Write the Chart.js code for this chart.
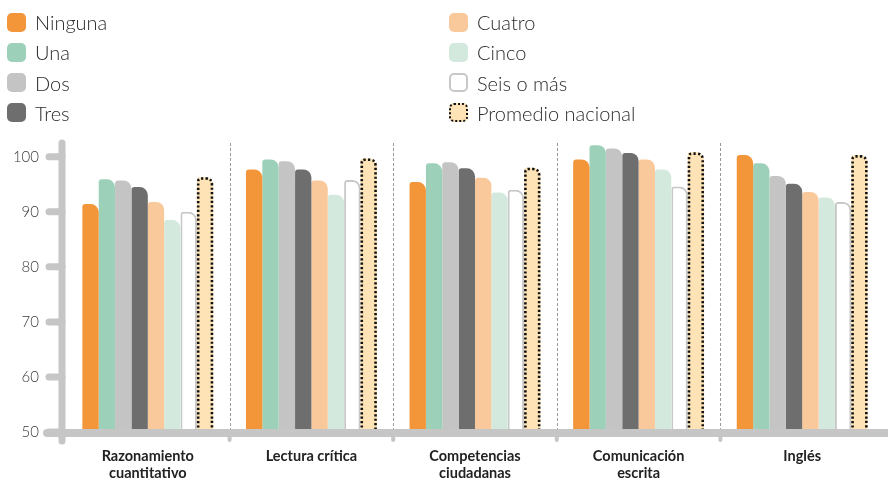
<!DOCTYPE html>
<html lang="es">
<head>
  <meta charset="UTF-8" />
  <title>Promedios por número de ...</title>
  <script src="https://cdn.jsdelivr.net/npm/chart.js"></script>
  <style>
    body { margin: 0; background: #fff; font-family: Lato, sans-serif; }
    #wrap { position: relative; width: 888px; height: 481px; }
    #legend { position: absolute; left: 0; top: 0; width: 888px; height: 135px; }
    .item { position: absolute; display: flex; align-items: center; font-size: 20px; font-weight: 300; color: #2b2b2b; }
    .box { width: 19px; height: 19px; border-radius: 5px; margin-right: 9px; box-sizing: border-box; }
  </style>
</head>
<body>
  <div id="wrap">
    <canvas id="grafico" width="888" height="481"></canvas>
    <div id="legend"></div>
  </div>

  <script>
    // Datos
    const categorias = [['Razonamiento', 'cuantitativo'], 'Lectura crítica', ['Competencias', 'ciudadanas'], ['Comunicación', 'escrita'], 'Inglés'];
    const nombres = ['Ninguna', 'Una', 'Dos', 'Tres', 'Cuatro', 'Cinco', 'Seis o más', 'Promedio nacional'];
    const ninguna  = [91.4, 97.7, 95.4, 99.5, 100.3];
    const una      = [95.9, 99.5, 98.8, 102.1, 98.8];
    const dos      = [95.7, 99.2, 99.0, 101.5, 96.5];
    const tres     = [94.5, 97.7, 97.9, 100.7, 95.1];
    const cuatro   = [91.8, 95.7, 96.2, 99.5, 93.6];
    const cinco    = [88.5, 93.1, 93.5, 97.7, 92.6];
    const seis     = [90.0, 95.8, 94.0, 94.6, 91.8];
    const promedio = [96.3, 99.7, 98.0, 100.8, 100.3];
    const yTicks = [50, 60, 70, 80, 90, 100];

    const series = [ninguna, una, dos, tres, cuatro, cinco, seis, promedio];
    const colores = ['#f39539', '#9dd0b8', '#c4c4c4', '#6e6e6e', '#f9c99c', '#d4e9de', '#ffffff', '#fde3b6'];
    const GRIS = '#c6c6c6';

    // Leyenda HTML (dos columnas)
    const legendEl = document.getElementById('legend');
    nombres.forEach((n, i) => {
      const col = i < 4 ? 0 : 1;
      const row = i % 4;
      const it = document.createElement('div');
      it.className = 'item';
      it.style.left = (col ? 449 : 7) + 'px';
      it.style.top = (13 + row * 30.3 - 3) + 'px';
      const b = document.createElement('div');
      b.className = 'box';
      b.style.background = colores[i];
      if (i === 6) b.style.border = '2.5px solid #c8c8c8';
      if (i === 7) b.style.border = '2.5px dotted #111';
      it.appendChild(b);
      const t = document.createElement('span');
      t.textContent = n;
      it.appendChild(t);
      legendEl.appendChild(it);
    });

    // Ejes dibujados a mano
    const ejes = {
      id: 'ejes',
      beforeDatasetsDraw(chart) {
        const { ctx, chartArea, scales } = chart;
        const x = scales.x;
        ctx.save();
        ctx.strokeStyle = '#9a9a9a';
        ctx.lineWidth = 1;
        ctx.setLineDash([3, 2]);
        for (let i = 0; i < categorias.length - 1; i++) {
          const px = Math.round((x.getPixelForValue(i) + x.getPixelForValue(i + 1)) / 2) + 0.5;
          ctx.beginPath();
          ctx.moveTo(px, chartArea.top);
          ctx.lineTo(px, chartArea.bottom);
          ctx.stroke();
        }
        ctx.restore();
      },
      afterDatasetsDraw(chart) {
        const { ctx, chartArea, scales } = chart;
        const x = scales.x, y = scales.y;
        const base = y.getPixelForValue(50);
        ctx.save();
        // borde punteado del promedio
        const meta = chart.getDatasetMeta(7);
        ctx.strokeStyle = '#111';
        ctx.lineWidth = 2.6;
        ctx.setLineDash([2.2, 2.2]);
        meta.data.forEach(el => {
          const p = el.getProps(['x', 'y', 'width'], true);
          const l = p.x - p.width / 2 + 1.3, r = p.x + p.width / 2 - 1.3, t = p.y + 1.3;
          ctx.beginPath();
          ctx.moveTo(l, base);
          ctx.lineTo(l, t + 3);
          ctx.quadraticCurveTo(l, t, l + 3, t);
          ctx.lineTo(r - 6, t);
          ctx.quadraticCurveTo(r, t, r, t + 6);
          ctx.lineTo(r, base);
          ctx.stroke();
        });
        ctx.setLineDash([]);
        ctx.strokeStyle = GRIS;
        ctx.lineCap = 'round';
        // stubs abajo
        ctx.lineWidth = 4;
        for (let i = 0; i < categorias.length - 1; i++) {
          const px = (x.getPixelForValue(i) + x.getPixelForValue(i + 1)) / 2;
          ctx.beginPath();
          ctx.moveTo(px, base);
          ctx.lineTo(px, base + 8);
          ctx.stroke();
        }
        // eje x
        ctx.lineWidth = 8;
        ctx.beginPath();
        ctx.moveTo(47, base + 1);
        ctx.lineTo(900, base + 1);
        ctx.stroke();
        // eje y
        const ax = chartArea.left - 4;
        ctx.lineWidth = 7;
        ctx.beginPath();
        ctx.moveTo(ax, chartArea.top);
        ctx.lineTo(ax, base + 9);
        ctx.stroke();
        // marcas y
        yTicks.forEach(v => {
          const py = y.getPixelForValue(v);
          ctx.beginPath();
          ctx.moveTo(49, py);
          ctx.lineTo(ax, py);
          ctx.stroke();
        });
        ctx.restore();
      }
    };

    const ctx = document.getElementById('grafico').getContext('2d');
    new Chart(ctx, {
      type: 'bar',
      data: {
        labels: categorias,
        datasets: series.map((d, i) => ({
          label: nombres[i],
          data: d,
          backgroundColor: colores[i],
          borderColor: i === 6 ? '#c8c8c8' : colores[i],
          borderWidth: i === 6 ? 2 : 0,
          borderSkipped: 'bottom',
          borderRadius: { topLeft: 3, topRight: 8, bottomLeft: 0, bottomRight: 0 },
          categoryPercentage: 0.8,
          barPercentage: 1.0
        }))
      },
      options: {
        responsive: false,
        animation: false,
        layout: { padding: { top: 143, right: 4, left: 0, bottom: 0 } },
        plugins: {
          legend: { display: false },
          tooltip: { enabled: false }
        },
        scales: {
          x: {
            grid: { display: false, drawTicks: false },
            border: { display: false },
            ticks: {
              padding: 16,
              color: '#222',
              font: { family: 'Lato', size: 14.5, weight: 'bold', lineHeight: 1.15 },
              maxRotation: 0
            },
            afterFit: s => { s.height = 49; }
          },
          y: {
            min: 50,
            max: 102.5,
            grid: { display: false, drawTicks: false },
            border: { display: false },
            afterBuildTicks: s => { s.ticks = yTicks.map(v => ({ value: v })); },
            ticks: {
              padding: 27,
              color: '#3a3a3a',
              font: { family: 'Lato', size: 15, weight: 300 }
            },
            afterFit: s => { s.width = 66; }
          }
        }
      },
      plugins: [ejes]
    });
  </script>
</body>
</html>
